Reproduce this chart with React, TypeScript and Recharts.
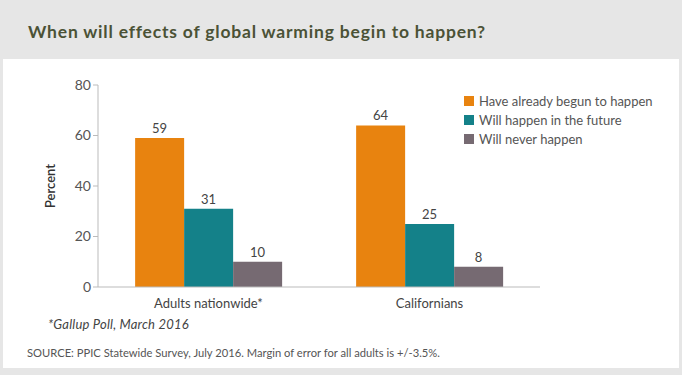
import React from 'react';
import { BarChart, Bar, XAxis, YAxis, LabelList } from 'recharts';

const categories = ['Adults nationwide*', 'Californians'];
const alreadyBegun = [59, 64];
const inFuture = [31, 25];
const never = [10, 8];
const yTicks = [0, 20, 40, 60, 80];

const series = [
    { key: 'begun', name: 'Have already begun to happen', color: '#e8830f', values: alreadyBegun },
    { key: 'future', name: 'Will happen in the future', color: '#148189', values: inFuture },
    { key: 'never', name: 'Will never happen', color: '#766a72', values: never },
];

const data = categories.map((name, i) => {
    const row: Record<string, string | number> = { name, pos: i + 0.5 };
    series.forEach((s) => {
        row[s.key] = s.values[i];
    });
    return row;
});

const font = 'Lato, "Open Sans", sans-serif';

const LegendBox = () => (
    <div style={{ fontFamily: font, fontSize: 13, color: '#555' }}>
        {series.map((s) => (
            <div key={s.key} style={{ display: 'flex', alignItems: 'center', height: 19 }}>
                <span style={{ width: 10, height: 10, background: s.color, marginRight: 5, display: 'inline-block' }} />
                {s.name}
            </div>
        ))}
    </div>
);

const App: React.FC = () => {
    return (
        <div
            style={{
                position: 'absolute',
                left: 0,
                top: 0,
                width: 682,
                height: 375,
                background: '#e6e6e6',
                fontFamily: font,
            }}
        >
            <div
                style={{
                    position: 'absolute',
                    left: 28,
                    top: 21,
                    fontSize: 17.5,
                    fontWeight: 700,
                    letterSpacing: 0.8,
                    color: '#4b5236',
                    whiteSpace: 'nowrap',
                }}
            >
                When will effects of global warming begin to happen?
            </div>
            <div
                style={{
                    position: 'absolute',
                    left: 3,
                    top: 59,
                    width: 676,
                    height: 309,
                    background: '#fff',
                }}
            />
            <div style={{ position: 'absolute', left: 0, top: 0 }}>
                <BarChart
                    width={682}
                    height={375}
                    data={data}
                    margin={{ top: 85, right: 142, left: 38, bottom: 58 }}
                    barGap={0}
                    barCategoryGap="16.8%"
                >
                    <XAxis
                        dataKey="name"
                        xAxisId="cat"
                        axisLine={{ stroke: '#bbb' }}
                        tickLine={false}
                        tick={{ fill: '#444', fontSize: 13 }}
                        height={30}
                        tickMargin={6}
                    />
                    <XAxis
                        dataKey="pos"
                        xAxisId="edge"
                        type="number"
                        domain={[0, 2]}
                        ticks={[0, 1, 2]}
                        axisLine={false}
                        tickLine={{ stroke: '#bbb' }}
                        tickSize={5}
                        tick={false}
                        height={0}
                    />
                    <YAxis
                        width={60}
                        domain={[0, 80]}
                        ticks={yTicks}
                        axisLine={{ stroke: '#bbb' }}
                        tickLine={{ stroke: '#bbb' }}
                        tickSize={5}
                        tick={{ fill: '#555', fontSize: 14 }}
                        label={{
                            value: 'Percent',
                            angle: -90,
                            position: 'insideLeft',
                            offset: 12,
                            style: { fill: '#333', fontSize: 13, fontWeight: 600, textAnchor: 'middle' },
                        }}
                    />
                    {series.map((s) => (
                        <Bar
                            key={s.key}
                            dataKey={s.key}
                            name={s.name}
                            fill={s.color}
                            xAxisId="cat"
                            isAnimationActive={false}
                        >
                            <LabelList dataKey={s.key} position="top" offset={5} fill="#444" fontSize={13} />
                        </Bar>
                    ))}
                </BarChart>
            </div>
            <div style={{ position: 'absolute', left: 464, top: 91 }}>
                <LegendBox />
            </div>
            <div
                style={{
                    position: 'absolute',
                    left: 48,
                    top: 316,
                    fontSize: 13,
                    letterSpacing: 0.2,
                    fontStyle: 'italic',
                    color: '#444',
                    whiteSpace: 'nowrap',
                }}
            >
                *Gallup Poll, March 2016
            </div>
            <div
                style={{
                    position: 'absolute',
                    left: 27,
                    top: 346,
                    fontSize: 11.2,
                    color: '#555',
                    whiteSpace: 'nowrap',
                }}
            >
                SOURCE: PPIC Statewide Survey, July 2016. Margin of error for all adults is +/-3.5%.
            </div>
        </div>
    );
};

export default App;
